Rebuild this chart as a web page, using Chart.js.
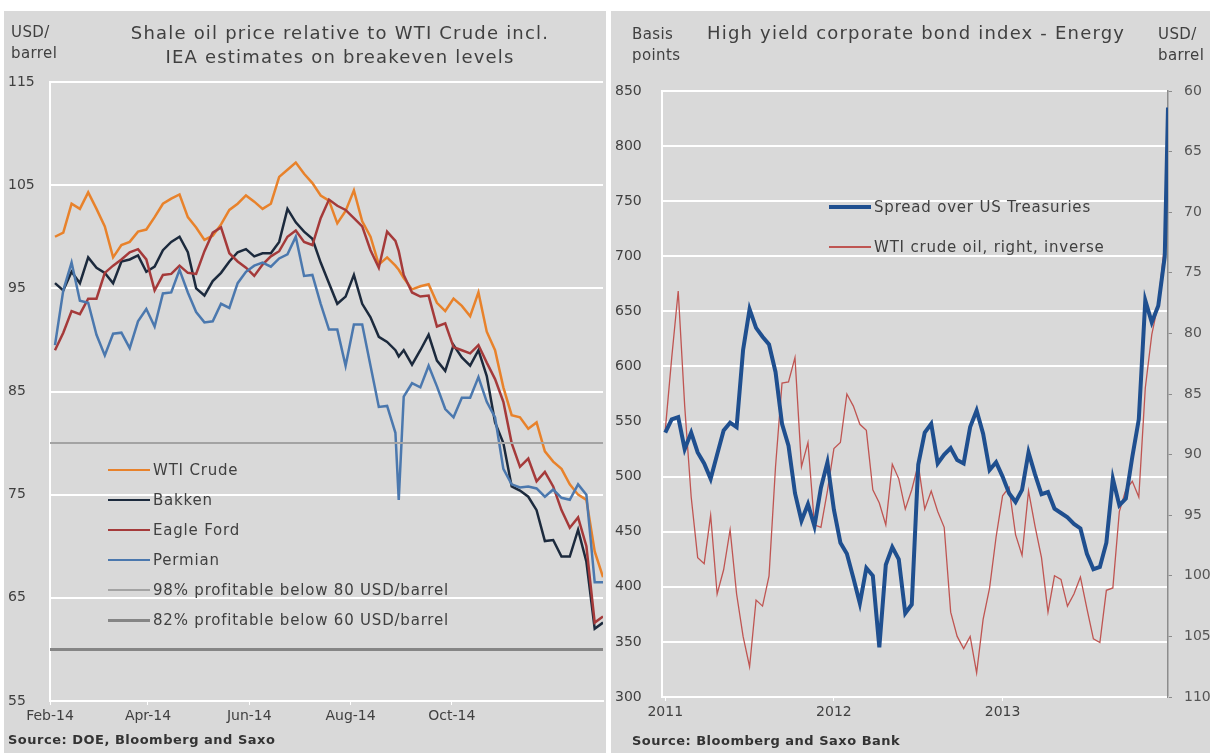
<!DOCTYPE html>
<html lang="en">
<head>
  <meta charset="UTF-8">
  <title>Shale oil prices and high yield energy spreads</title>
  <script src="https://cdn.jsdelivr.net/npm/chart.js"></script>
  <style>
    body { margin: 0; width: 1210px; height: 753px; overflow: hidden; position: relative; background: #fff;
           font-family: "DejaVu Sans", Verdana, sans-serif; color: #404040; }
    .panel { position: absolute; top: 11px; height: 742px; background: #d9d9d9; }
    #leftPanel { left: 4px; width: 602px; }
    #rightPanel { left: 611px; width: 599px; }
    .panel canvas { position: absolute; left: 0; top: 0; }
    .txt { position: absolute; white-space: nowrap; }
    .unit { font-size: 15px; line-height: 21px; letter-spacing: 0.4px; }
    .title { font-size: 18px; line-height: 24px; letter-spacing: 1.2px; text-align: center; }
    .source { font-size: 13px; font-weight: bold; color: #333; letter-spacing: 0.5px; }
    .leg { position: absolute; height: 18px; font-size: 15px; line-height: 18px; white-space: nowrap; letter-spacing: 0.8px; }
    .leg i { position: absolute; left: 0; top: 50%; width: 42px; }
    .leg span { position: absolute; left: 45px; top: 0; }
  </style>
</head>
<body>
  <div class="panel" id="leftPanel"><canvas id="shaleChart" width="602" height="742"></canvas></div>
  <div class="panel" id="rightPanel"><canvas id="bondChart" width="599" height="742"></canvas></div>

  <!-- texts, left panel -->
  <div class="txt unit" style="left:11px; top:22px;">USD/<br>barrel</div>
  <div class="txt title" style="left:100px; width:480px; top:21px;">Shale oil price relative to WTI Crude incl.<br>IEA estimates on breakeven levels</div>
  <div class="txt source" style="left:8px; top:732px;">Source: DOE, Bloomberg and Saxo</div>
  <div id="leftLegend"></div>

  <!-- texts, right panel -->
  <div class="txt unit" style="left:632px; top:24px;">Basis<br>points</div>
  <div class="txt title" style="left:707px; top:21px; text-align:left;">High yield corporate bond index - Energy</div>
  <div class="txt unit" style="left:1158px; top:24px;">USD/<br>barrel</div>
  <div class="txt source" style="left:632px; top:733px;">Source: Bloomberg and Saxo Bank</div>
  <div id="rightLegend"></div>

  <script>
    // ---- left chart data (days since 1 Feb 2014) ----
    const leftDays = [3, 8, 13, 18, 23, 28, 33, 38, 43, 48, 53, 58, 63, 68, 73, 78, 83, 88, 93, 98,
      103, 108, 113, 118, 123, 128, 133, 138, 143, 148, 153, 158, 163, 168, 173, 178, 183, 188, 193, 198,
      203, 208, 210, 213, 218, 223, 228, 233, 238, 243, 248, 253, 258, 263, 268, 273, 278, 283, 288, 293,
      298, 303, 308, 313, 318, 323, 328, 333];
    const wtiCrude = [100.0, 100.4, 103.2, 102.7, 104.3, 102.7, 101.0, 98.0, 99.2, 99.5,
      100.5, 100.7, 101.9, 103.2, 103.7, 104.1, 101.9, 100.9, 99.7, 100.1,
      101.2, 102.6, 103.2, 104.0, 103.4, 102.7, 103.2, 105.8, 106.5, 107.2,
      106.1, 105.2, 104.0, 103.5, 101.3, 102.5, 104.5, 101.5, 100.0, 97.3,
      98.0, 97.2, 96.8, 96.0, 94.9, 95.2, 95.4, 93.6, 92.8, 94.0,
      93.3, 92.3, 94.6, 90.8, 89.0, 85.4, 82.7, 82.5, 81.4, 82.0,
      79.2, 78.2, 77.5, 76.0, 75.0, 74.5, 69.5, 67.0];
    const bakken = [95.5, 94.8, 96.6, 95.5, 98.0, 97.0, 96.5, 95.5, 97.6, 97.8,
      98.2, 96.6, 97.1, 98.7, 99.5, 100.0, 98.5, 95.0, 94.3, 95.7,
      96.5, 97.6, 98.5, 98.8, 98.1, 98.4, 98.4, 99.5, 102.7, 101.4,
      100.5, 99.8, 97.5, 95.5, 93.5, 94.2, 96.3, 93.5, 92.2, 90.3,
      89.8, 89.0, 88.4, 89.0, 87.6, 89.0, 90.5, 88.0, 87.0, 89.5,
      88.3, 87.5, 89.0, 86.5, 82.0, 80.0, 75.8, 75.4, 74.8, 73.5,
      70.5, 70.6, 69.0, 69.0, 71.6, 68.5, 62.0, 62.6];
    const eagleFord = [89.0, 90.7, 92.8, 92.5, 94.0, 94.0, 96.5, 97.2, 97.8, 98.5,
      98.8, 97.8, 94.8, 96.3, 96.4, 97.2, 96.5, 96.4, 98.6, 100.4,
      100.9, 98.4, 97.6, 97.0, 96.2, 97.3, 98.1, 98.6, 100.0, 100.6,
      99.5, 99.2, 101.8, 103.6, 103.0, 102.6, 101.8, 101.0, 98.7, 97.0,
      100.5, 99.6, 98.6, 96.3, 94.6, 94.2, 94.3, 91.3, 91.6, 89.3,
      89.0, 88.7, 89.5, 87.8, 86.2, 84.0, 80.0, 77.7, 78.5, 76.3,
      77.2, 75.8, 73.5, 71.8, 72.8, 70.0, 62.6, 63.2];
    const permian = [89.5, 94.8, 97.5, 93.8, 93.6, 90.5, 88.5, 90.6, 90.7, 89.2,
      91.8, 93.0, 91.3, 94.5, 94.6, 96.8, 94.6, 92.7, 91.7, 91.8,
      93.5, 93.1, 95.5, 96.6, 97.2, 97.5, 97.1, 97.9, 98.3, 100.0,
      96.2, 96.3, 93.5, 91.0, 91.0, 87.5, 91.5, 91.5, 87.5, 83.5,
      83.6, 81.0, 74.5, 84.5, 85.8, 85.4, 87.5, 85.5, 83.3, 82.5,
      84.4, 84.4, 86.4, 84.0, 82.5, 77.5, 76.0, 75.7, 75.8, 75.6,
      74.8, 75.5, 74.7, 74.5, 76.0, 75.0, 66.5, 66.5];
    const breakevenLevels = [80, 60];
    const leftTickDays = [0, 59, 120, 181, 242];
    const leftTickLabels = ['Feb-14', 'Apr-14', 'Jun-14', 'Aug-14', 'Oct-14'];

    // ---- right chart data (weeks since start of 2011) ----
    const rightWeeks = [0, 2, 4, 6, 8, 10, 12, 14, 16, 18, 20, 22, 24, 26, 28, 30, 32, 34, 36, 38,
      40, 42, 44, 46, 48, 50, 52, 54, 56, 58, 60, 62, 64, 66, 68, 70, 72, 74, 76, 78,
      80, 82, 84, 86, 88, 90, 92, 94, 96, 98, 100, 102, 104, 106, 108, 110, 112, 114, 116, 118,
      120, 122, 124, 126, 128, 130, 132, 134, 136, 138, 140, 142, 144, 146, 148, 150, 152, 154, 155];
    const hySpread = [540, 552, 554, 525, 540, 522, 512, 498, 520, 542,
      549, 545, 615, 652, 635, 627, 620, 595, 548, 528,
      485, 460, 475, 455, 490, 513, 470, 440, 430, 408,
      385, 417, 410, 345, 420, 436, 425, 376, 384, 511,
      540, 548, 512, 520, 526, 515, 512, 545, 560, 539,
      506, 513, 500, 485, 477, 488, 522, 502, 484, 486,
      471, 467, 463, 457, 453, 430, 416, 418, 440, 498,
      474, 480, 518, 552, 660, 640, 655, 700, 835];
    const wtiInverse = [88.0, 82.0, 76.5, 86.0, 93.5, 98.5, 99.0, 95.0, 101.5, 99.5,
      96.2, 101.5, 105.0, 107.5, 102.0, 102.5, 100.0, 91.0, 84.1, 84.0,
      82.0, 91.0, 89.0, 95.8, 96.0, 93.0, 89.5, 89.0, 85.0, 86.0,
      87.5, 88.0, 92.9, 94.0, 95.8, 90.8, 92.0, 94.5, 92.9, 90.8,
      94.5, 93.0, 94.7, 96.0, 103.0, 105.0, 106.0, 105.0, 108.0, 103.6,
      101.0, 96.8, 93.4, 92.7, 96.6, 98.3, 93.0, 95.9, 98.5, 103.0,
      100.0, 100.3, 102.5, 101.5, 100.1, 102.7, 105.2, 105.5, 101.2, 101.0,
      94.7, 92.9, 92.2, 93.5, 84.5, 80.1, 77.5, 72.5, 67.1];
    const yearTickWeeks = [0, 52, 104];
    const yearTickLabels = ['2011', '2012', '2013'];

    const FONT = '"DejaVu Sans", Verdana, sans-serif';
    const TEXT = '#404040';
    const pts = (xs, ys) => xs.map((x, i) => ({ x: x, y: ys[i] }));

    // ---- left chart ----
    const leftSeries = [
      { label: 'WTI Crude', values: wtiCrude, color: '#e8822b', width: 2.5 },
      { label: 'Bakken', values: bakken, color: '#1c2a3d', width: 2.5 },
      { label: 'Eagle Ford', values: eagleFord, color: '#a53a3a', width: 2.5 },
      { label: 'Permian', values: permian, color: '#4b78ae', width: 2.5 }
    ];
    const breakevenStyle = [
      { label: '98% profitable below 80 USD/barrel', color: '#a3a3a3', width: 2 },
      { label: '82% profitable below 60 USD/barrel', color: '#858585', width: 3 }
    ];
    const leftX0 = 0, leftX1 = 333;

    const leftDatasets = leftSeries.map(s => ({
      label: s.label, data: pts(leftDays, s.values), borderColor: s.color, borderWidth: s.width
    })).concat(breakevenLevels.map((lvl, i) => ({
      label: breakevenStyle[i].label,
      data: [{ x: leftX0, y: lvl }, { x: leftX1, y: lvl }],
      borderColor: breakevenStyle[i].color, borderWidth: breakevenStyle[i].width
    })));
    leftDatasets.forEach((d, i) => { d.order = leftDatasets.length - i; d.pointRadius = 0; d.fill = false; });

    new Chart(document.getElementById('shaleChart'), {
      type: 'line',
      data: { datasets: leftDatasets },
      options: {
        responsive: false, animation: false,
        layout: { padding: { top: 71, right: 3, bottom: 30, left: 4 } },
        plugins: { legend: { display: false }, tooltip: { enabled: false } },
        elements: { line: { tension: 0 } },
        scales: {
          x: {
            type: 'linear', min: leftX0, max: leftX1,
            afterBuildTicks: s => { s.ticks = leftTickDays.map(v => ({ value: v })); },
            afterFit: s => { s.height = 22; },
            ticks: { callback: v => leftTickLabels[leftTickDays.indexOf(v)], color: TEXT,
                     font: { family: FONT, size: 14 }, maxRotation: 0, autoSkip: false, padding: 3 },
            grid: { drawOnChartArea: false, color: '#fff', tickLength: 4 },
            border: { color: '#fff', width: 2 }
          },
          y: {
            min: 55, max: 115,
            afterFit: s => { s.width = 42; },
            ticks: { stepSize: 10, crossAlign: 'far', color: TEXT, font: { family: FONT, size: 14 } },
            grid: { color: '#fff', lineWidth: 2, drawTicks: false },
            border: { color: '#fff', width: 2 }
          }
        }
      }
    });

    // ---- right chart ----
    const spreadStyle = { label: 'Spread over US Treasuries', color: '#1f4f8f', width: 4 };
    const wtiStyle = { label: 'WTI crude oil, right, inverse', color: '#bf5552', width: 1.3 };

    new Chart(document.getElementById('bondChart'), {
      type: 'line',
      data: {
        datasets: [
          { label: spreadStyle.label, data: pts(rightWeeks, hySpread), yAxisID: 'y',
            borderColor: spreadStyle.color, borderWidth: spreadStyle.width, pointRadius: 0, order: 0 },
          { label: wtiStyle.label, data: pts(rightWeeks, wtiInverse), yAxisID: 'y1',
            borderColor: wtiStyle.color, borderWidth: wtiStyle.width, pointRadius: 0, order: 1 }
        ]
      },
      options: {
        responsive: false, animation: false,
        layout: { padding: { top: 80, right: 0, bottom: 34, left: 4 } },
        plugins: { legend: { display: false }, tooltip: { enabled: false } },
        elements: { line: { tension: 0 } },
        scales: {
          x: {
            type: 'linear', min: -1, max: 155,
            afterBuildTicks: s => { s.ticks = yearTickWeeks.map(v => ({ value: v })); },
            afterFit: s => { s.height = 22; },
            ticks: { callback: v => yearTickLabels[yearTickWeeks.indexOf(v)], color: TEXT,
                     font: { family: FONT, size: 14 }, maxRotation: 0, autoSkip: false, padding: 3 },
            grid: { drawOnChartArea: false, color: '#fff', tickLength: 4 },
            border: { color: '#fff', width: 2 }
          },
          y: {
            position: 'left', min: 300, max: 850,
            afterFit: s => { s.width = 47; },
            ticks: { stepSize: 50, crossAlign: 'far', color: TEXT, font: { family: FONT, size: 14 } },
            grid: { color: '#fff', lineWidth: 2, drawTicks: false },
            border: { color: '#fff', width: 2 }
          },
          y1: {
            position: 'right', min: 60, max: 110, reverse: true,
            afterFit: s => { s.width = 42; },
            ticks: { stepSize: 5, color: '#555', font: { family: FONT, size: 14 }, padding: 12 },
            grid: { drawOnChartArea: false, color: '#8c8c8c', tickLength: 4 },
            border: { color: '#8c8c8c', width: 1.5 }
          }
        }
      }
    });

    // ---- legends (html, inside the plot areas) ----
    function buildLegend(id, items, left, top, step) {
      const box = document.getElementById(id);
      items.forEach((it, i) => {
        const row = document.createElement('div');
        row.className = 'leg';
        row.style.left = left + 'px';
        row.style.top = (top + i * step) + 'px';
        row.innerHTML = '<i style="height:' + it.width + 'px; margin-top:-' + (it.width / 2) +
          'px; background:' + it.color + '"></i><span>' + it.label + '</span>';
        box.appendChild(row);
      });
    }
    buildLegend('leftLegend', leftSeries.concat(breakevenStyle), 108, 461, 30);
    buildLegend('rightLegend', [spreadStyle, { label: wtiStyle.label, color: wtiStyle.color, width: 2 }], 829, 198, 40);
  </script>
</body>
</html>
